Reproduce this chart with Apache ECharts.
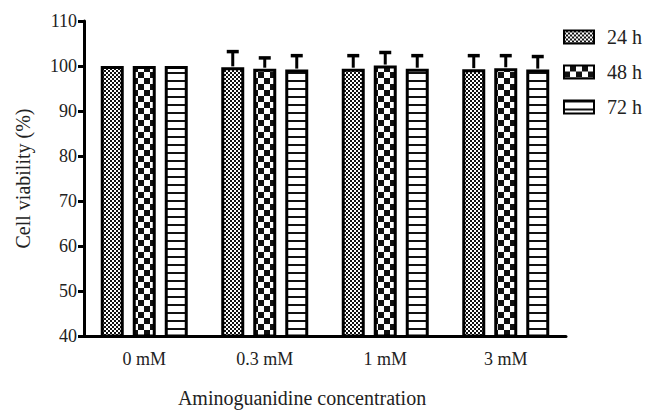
<!DOCTYPE html>
<html>
<head>
<meta charset="utf-8">
<script src="https://cdn.jsdelivr.net/npm/echarts@6/dist/echarts.min.js"></script>
<style>
html,body{margin:0;padding:0;background:#fff;}
#chart{width:657px;height:411px;}
</style>
</head>
<body>
<div id="chart"></div>
<script>
var categories = ['0 mM', '0.3 mM', '1 mM', '3 mM'];
var seriesNames = ['24 h', '48 h', '72 h'];
var values24 = [100, 99.7, 99.4, 99.3];
var values48 = [100, 99.4, 100.1, 99.5];
var values72 = [100, 99.2, 99.4, 99.2];
var err24 = [0, 3.5, 2.9, 3.0];
var err48 = [0, 2.4, 2.9, 2.8];
var err72 = [0, 3.1, 2.9, 2.9];
var yTicks = [40, 50, 60, 70, 80, 90, 100, 110];

function makeTile(w, h, draw) {
  var c = document.createElement('canvas');
  c.width = w; c.height = h;
  var ctx = c.getContext('2d');
  draw(ctx);
  return { image: c, repeat: 'repeat', imageWidth: w, imageHeight: h };
}
var pat24 = makeTile(4, 4, function (ctx) {
  ctx.fillStyle = '#111'; ctx.fillRect(0, 0, 4, 4);
  ctx.fillStyle = '#fff'; ctx.fillRect(0, 0, 2, 2); ctx.fillRect(2, 2, 2, 2);
});
var pat48 = makeTile(12, 12, function (ctx) {
  ctx.fillStyle = '#111'; ctx.fillRect(0, 0, 12, 12);
  ctx.fillStyle = '#fff'; ctx.fillRect(0, 0, 6, 6); ctx.fillRect(6, 6, 6, 6);
});
var pat72 = makeTile(8, 8, function (ctx) {
  ctx.fillStyle = '#fff'; ctx.fillRect(0, 0, 8, 8);
  ctx.fillStyle = '#111'; ctx.fillRect(0, 0, 8, 2);
});

var BAR_W = 23, GAP = 9;
var vals = [values24, values48, values72];
var errs = [err24, err48, err72];
var pats = [pat24, pat48, pat72];
var FONT = 'Liberation Serif';

var series = [];
vals.forEach(function (v, i) {
  series.push({
    name: seriesNames[i],
    type: 'bar',
    data: v,
    barWidth: BAR_W,
    barGap: (GAP / BAR_W * 100) + '%',
    itemStyle: { color: pats[i], borderColor: '#000', borderWidth: 3 },
    silent: true
  });
});
vals.forEach(function (v, i) {
  var data = v.map(function (val, k) { return [k, val, val + errs[i][k]]; });
  series.push({
    name: 'err' + i,
    type: 'custom',
    z: 5,
    silent: true,
    data: data,
    renderItem: function (params, api) {
      var k = api.value(0);
      var lo = api.coord([k, api.value(1)]);
      var hi = api.coord([k, api.value(2)]);
      var x = lo[0] + (i - 1) * (BAR_W + GAP);
      if (Math.abs(hi[1] - lo[1]) < 0.5) return null;
      return {
        type: 'group',
        children: [
          { type: 'line', shape: { x1: x, y1: lo[1] - 1, x2: x, y2: hi[1] }, style: { stroke: '#000', lineWidth: 3 } },
          { type: 'line', shape: { x1: x - 6, y1: hi[1], x2: x + 6, y2: hi[1] }, style: { stroke: '#000', lineWidth: 3.5 } }
        ]
      };
    }
  });
});

var chart = echarts.init(document.getElementById('chart'), null, { renderer: 'svg' });
chart.setOption({
  animation: false,
  backgroundColor: '#fff',
  grid: { left: 84, right: 91, top: 21, bottom: 75, containLabel: false, outerBoundsMode: 'none' },
  legend: {
    data: seriesNames,
    orient: 'vertical',
    left: 558, top: 22,
    icon: 'rect',
    itemWidth: 30, itemHeight: 13, itemGap: 15,
    textStyle: { fontFamily: FONT, fontSize: 20, color: '#222', padding: [0, 0, 0, 8] },
    selectedMode: false
  },
  xAxis: {
    type: 'category',
    data: categories,
    name: 'Aminoguanidine concentration',
    nameLocation: 'middle',
    nameGap: 52,
    nameTextStyle: { fontFamily: FONT, fontSize: 20, color: '#222', padding: [0, 46, 0, 0] },
    axisLine: { lineStyle: { color: '#000', width: 3 } },
    axisTick: { alignWithLabel: true, length: 6, lineStyle: { color: '#000', width: 3 } },
    axisLabel: { fontFamily: FONT, fontSize: 18, color: '#222', margin: 14 }
  },
  yAxis: {
    type: 'value',
    min: yTicks[0], max: yTicks[yTicks.length - 1], interval: 10,
    name: 'Cell viability (%)',
    nameLocation: 'middle',
    nameGap: 51,
    nameTextStyle: { fontFamily: FONT, fontSize: 20, color: '#222' },
    axisLine: { show: true, lineStyle: { color: '#000', width: 3 } },
    axisTick: { show: true, length: 6, lineStyle: { color: '#000', width: 3 } },
    axisLabel: { fontFamily: FONT, fontSize: 18, color: '#222', margin: 7 },
    splitLine: { show: false }
  },
  series: series
});
</script>
</body>
</html>
